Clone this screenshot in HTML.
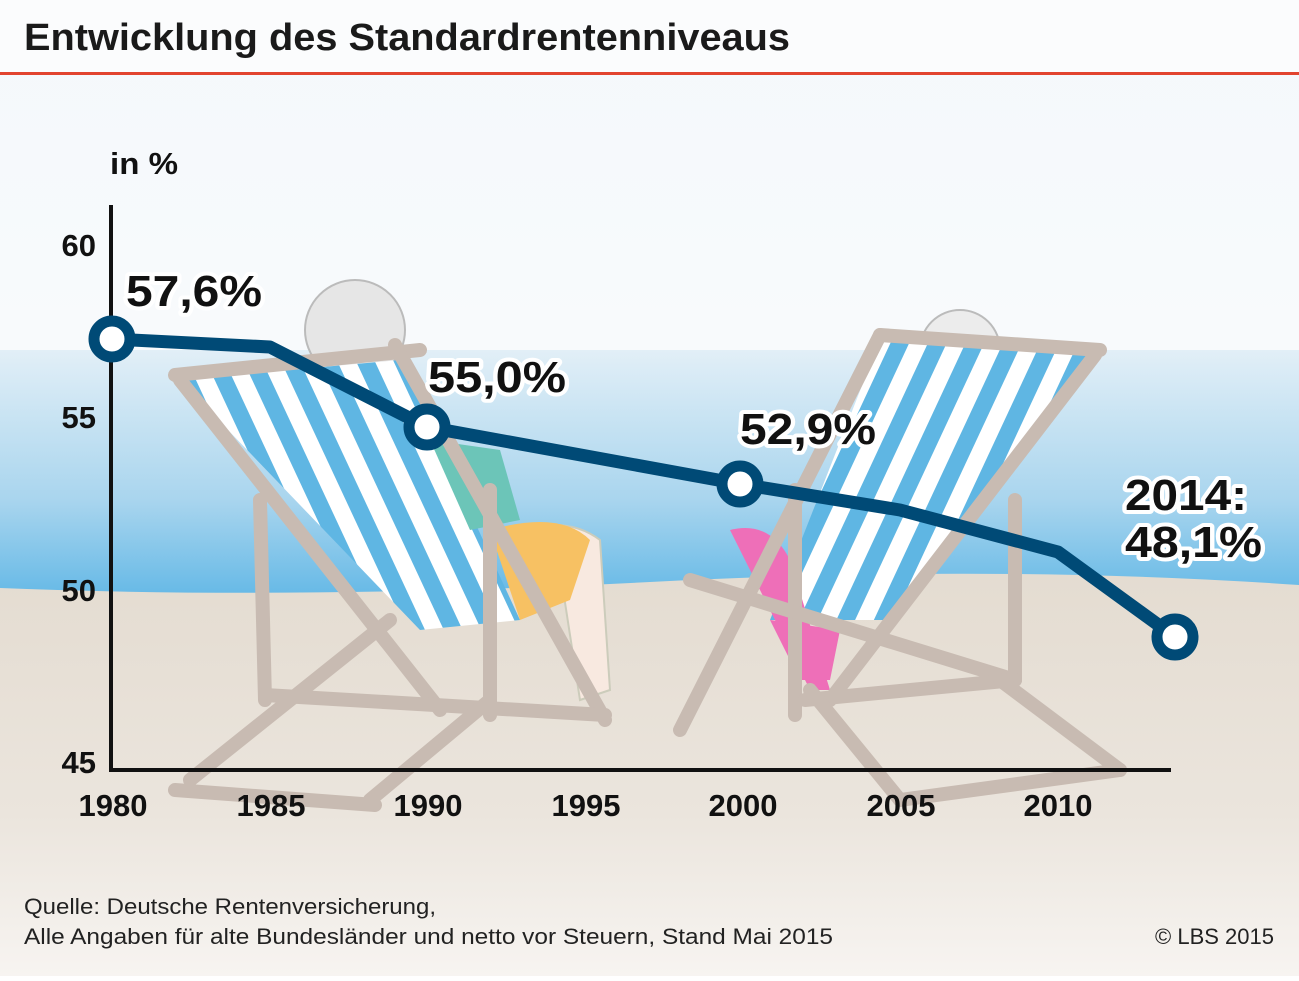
<!DOCTYPE html>
<html><head><meta charset="utf-8"><style>
body{margin:0;width:1299px;height:976px;overflow:hidden;font-family:"Liberation Sans",sans-serif}
</style></head><body>
<svg width="1299" height="976" xmlns="http://www.w3.org/2000/svg" font-family="Liberation Sans, sans-serif">
<defs>
<linearGradient id="sky" x1="0" y1="0" x2="0" y2="1"><stop offset="0" stop-color="#f4f8fb"/><stop offset="1" stop-color="#ffffff"/></linearGradient>
<linearGradient id="sea" x1="0" y1="0" x2="0" y2="1"><stop offset="0" stop-color="#e2eff7"/><stop offset="0.6" stop-color="#a9d5ee"/><stop offset="1" stop-color="#63b8e6"/></linearGradient>
<linearGradient id="sand" x1="0" y1="0" x2="0" y2="1"><stop offset="0" stop-color="#e4dcd1"/><stop offset="0.6" stop-color="#ebe5dd"/><stop offset="1" stop-color="#f7f4f1"/></linearGradient>
<pattern id="stripes" width="34" height="34" patternUnits="userSpaceOnUse" patternTransform="rotate(-25)"><rect width="34" height="34" fill="#fff"/><rect width="17" height="34" fill="#5fb6e3"/></pattern>
<pattern id="stripes2" width="34" height="34" patternUnits="userSpaceOnUse" patternTransform="rotate(25)"><rect width="34" height="34" fill="#fff"/><rect width="17" height="34" fill="#5fb6e3"/></pattern>
</defs>
<rect width="1299" height="976" fill="url(#sky)"/>
<rect x="0" y="350" width="1299" height="250" fill="url(#sea)"/>
<path d="M0 588 Q300 600 650 582 T1299 585 L1299 976 L0 976Z" fill="url(#sand)"/>
<rect x="0" y="0" width="1299" height="73" fill="#fbfcfd"/>
<rect x="0" y="72" width="1299" height="3" fill="#e2442f"/>
<text x="24" y="50" font-size="38" font-weight="bold" fill="#1a1a1a" textLength="766" lengthAdjust="spacingAndGlyphs">Entwicklung des Standardrentenniveaus</text>

<!-- left chair -->
<g>
<circle cx="355" cy="330" r="50" fill="#e6e6e6" stroke="#bbb" stroke-width="2"/>
<path d="M180 380 L400 360 L520 620 L420 630 Z" fill="url(#stripes)"/>
<path d="M500 540 Q560 510 600 540 L610 690 L580 700 L560 570 Z" fill="#f8e9e0" stroke="#ccb" stroke-width="2"/>
<path d="M490 530 Q560 510 590 540 L570 600 L520 620 Z" fill="#f7c163"/>
<path d="M430 440 L500 450 L520 520 L470 530Z" fill="#6cc5b8"/>
<g stroke="#c8bbb2" stroke-width="14" fill="none" stroke-linecap="round">
<path d="M175 375 L420 350"/><path d="M180 380 L440 710"/><path d="M395 345 L605 720"/>
<path d="M260 500 L265 700"/><path d="M490 490 L490 715"/><path d="M265 695 L605 715"/>
<path d="M175 790 L375 805"/><path d="M190 780 L390 620"/><path d="M370 800 L490 700"/>
</g>
</g>
<!-- right chair -->
<g>
<circle cx="960" cy="350" r="40" fill="#ececec" stroke="#bbb" stroke-width="2"/>
<path d="M880 340 L1090 355 L890 620 L770 620 Z" fill="url(#stripes2)"/>
<path d="M730 530 Q770 520 790 560 L830 690 L810 690 Z" fill="#ee6fb8"/>
<path d="M770 620 L840 630 L830 680 L800 680Z" fill="#ee6fb8"/>
<g stroke="#c8bbb2" stroke-width="14" fill="none" stroke-linecap="round">
<path d="M880 335 L1100 350"/><path d="M880 335 L680 730"/><path d="M1095 355 L830 700"/>
<path d="M795 490 L795 715"/><path d="M1015 500 L1015 680"/><path d="M690 580 L1015 680"/>
<path d="M805 700 L1015 680"/><path d="M900 800 L1120 770"/><path d="M810 690 L900 800"/><path d="M1000 680 L1120 770"/>
</g>
</g>

<!-- axes -->
<g stroke="#111" stroke-width="4">
<line x1="111" y1="205" x2="111" y2="772"/>
<line x1="109" y1="770" x2="1171" y2="770"/>
</g>
<g font-size="31" font-weight="bold" fill="#111">
<text x="110" y="174" textLength="68" lengthAdjust="spacingAndGlyphs">in %</text>
<text x="96" y="256" text-anchor="end">60</text>
<text x="96" y="428" text-anchor="end">55</text>
<text x="96" y="601" text-anchor="end">50</text>
<text x="96" y="773" text-anchor="end">45</text>
<g text-anchor="middle">
<text x="113" y="816">1980</text><text x="271" y="816">1985</text><text x="428" y="816">1990</text>
<text x="586" y="816">1995</text><text x="743" y="816">2000</text><text x="901" y="816">2005</text><text x="1058" y="816">2010</text>
</g>
</g>
<polyline points="112,339 270,347 427,427 740,484 900,510 1058,552 1175,637" fill="none" stroke="#004a76" stroke-width="13" stroke-linejoin="round"/>
<g fill="#fff" stroke="#004a76" stroke-width="11">
<circle cx="112" cy="339" r="18"/><circle cx="427" cy="427" r="18"/><circle cx="740" cy="484" r="18"/><circle cx="1175" cy="637" r="18"/>
</g>
<g font-size="44" font-weight="bold" fill="#111" stroke="#fff" stroke-width="8" paint-order="stroke" stroke-linejoin="round">
<text x="126" y="306" textLength="136" lengthAdjust="spacingAndGlyphs">57,6%</text>
<text x="428" y="392" textLength="138" lengthAdjust="spacingAndGlyphs">55,0%</text>
<text x="740" y="444" textLength="136" lengthAdjust="spacingAndGlyphs">52,9%</text>
<text x="1125" y="510" textLength="122" lengthAdjust="spacingAndGlyphs">2014:</text>
<text x="1125" y="557" textLength="137" lengthAdjust="spacingAndGlyphs">48,1%</text>
</g>
<g font-size="22" fill="#222">
<text x="24" y="914" textLength="412" lengthAdjust="spacingAndGlyphs">Quelle: Deutsche Rentenversicherung,</text>
<text x="24" y="944" textLength="809" lengthAdjust="spacingAndGlyphs">Alle Angaben für alte Bundesländer und netto vor Steuern, Stand Mai 2015</text>
<text x="1274" y="944" text-anchor="end">© LBS 2015</text>
</g>
</svg>
</body></html>
